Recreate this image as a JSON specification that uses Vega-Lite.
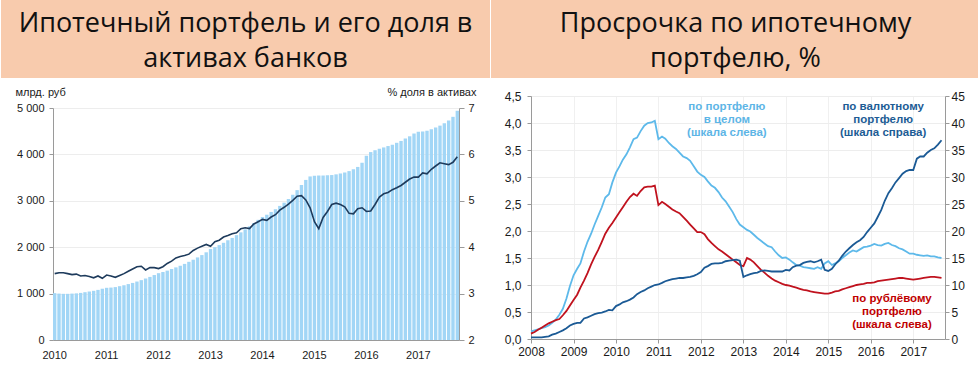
{
  "$schema": "https://vega.github.io/schema/vega-lite/v6.json",
  "padding": 0,
  "background": "white",
  "spacing": 0,
  "hconcat": [
    {
      "concat": [
        {
          "width": 0.001, "height": 0.001,
          "data": {"values": [{"z": 0}]},
          "mark": {"type": "point", "size": 0, "strokeWidth": 0, "opacity": 0}
        },
        {
          "width": 489,
          "height": 78,
          "view": {"fill": "#F8CBAD", "stroke": null},
          "data": {"values": [
            {"t": "Ипотечный портфель и его доля в", "i": 0},
            {"t": "активах банков", "i": 1}
          ]},
          "mark": {"type": "text", "font": "Open Sans", "fontSize": 27, "color": "#111111", "baseline": "alphabetic", "align": "center"},
          "encoding": {
            "y": {"field": "i", "type": "ordinal", "axis": null, "scale": {"range": [32, 67], "padding": 0}},
            "text": {"field": "t"}
          }
        },
        {
          "width": 0.001, "height": 0.001,
          "data": {"values": [{"z": 0}]},
          "mark": {"type": "point", "size": 0, "strokeWidth": 0, "opacity": 0}
        },
        {
          "width": 406,
          "height": 232,
          "title": {"text": "\u00a0", "orient": "bottom", "anchor": "start", "frame": "group", "dx": -52, "fontSize": 1, "offset": 0},
          "data": {"values": [
            {"m":"2010-01","v":1010,"s":3.43},{"m":"2010-02","v":1000,"s":3.45},{"m":"2010-03","v":995,"s":3.45},{"m":"2010-04","v":995,"s":3.43},{"m":"2010-05","v":1000,"s":3.41},{"m":"2010-06","v":1005,"s":3.42},{"m":"2010-07","v":1015,"s":3.38},{"m":"2010-08","v":1030,"s":3.39},{"m":"2010-09","v":1045,"s":3.37},{"m":"2010-10","v":1060,"s":3.34},{"m":"2010-11","v":1080,"s":3.38},{"m":"2010-12","v":1105,"s":3.33},
            {"m":"2011-01","v":1125,"s":3.40},{"m":"2011-02","v":1130,"s":3.38},{"m":"2011-03","v":1140,"s":3.35},{"m":"2011-04","v":1160,"s":3.39},{"m":"2011-05","v":1180,"s":3.43},{"m":"2011-06","v":1205,"s":3.48},{"m":"2011-07","v":1230,"s":3.53},{"m":"2011-08","v":1260,"s":3.58},{"m":"2011-09","v":1290,"s":3.59},{"m":"2011-10","v":1325,"s":3.51},{"m":"2011-11","v":1360,"s":3.56},{"m":"2011-12","v":1400,"s":3.56},
            {"m":"2012-01","v":1440,"s":3.54},{"m":"2012-02","v":1465,"s":3.58},{"m":"2012-03","v":1495,"s":3.65},{"m":"2012-04","v":1530,"s":3.70},{"m":"2012-05","v":1565,"s":3.77},{"m":"2012-06","v":1600,"s":3.80},{"m":"2012-07","v":1640,"s":3.82},{"m":"2012-08","v":1685,"s":3.85},{"m":"2012-09","v":1730,"s":3.93},{"m":"2012-10","v":1780,"s":3.98},{"m":"2012-11","v":1830,"s":4.02},{"m":"2012-12","v":1890,"s":4.06},
            {"m":"2013-01","v":1960,"s":4.02},{"m":"2013-02","v":2000,"s":4.12},{"m":"2013-03","v":2045,"s":4.15},{"m":"2013-04","v":2095,"s":4.22},{"m":"2013-05","v":2150,"s":4.25},{"m":"2013-06","v":2200,"s":4.29},{"m":"2013-07","v":2260,"s":4.31},{"m":"2013-08","v":2320,"s":4.40},{"m":"2013-09","v":2385,"s":4.42},{"m":"2013-10","v":2450,"s":4.40},{"m":"2013-11","v":2520,"s":4.50},{"m":"2013-12","v":2590,"s":4.55},
            {"m":"2014-01","v":2650,"s":4.60},{"m":"2014-02","v":2700,"s":4.58},{"m":"2014-03","v":2760,"s":4.65},{"m":"2014-04","v":2820,"s":4.70},{"m":"2014-05","v":2890,"s":4.80},{"m":"2014-06","v":2960,"s":4.86},{"m":"2014-07","v":3040,"s":4.93},{"m":"2014-08","v":3130,"s":5.01},{"m":"2014-09","v":3230,"s":5.10},{"m":"2014-10","v":3340,"s":5.11},{"m":"2014-11","v":3450,"s":5.02},{"m":"2014-12","v":3525,"s":4.85},
            {"m":"2015-01","v":3540,"s":4.55},{"m":"2015-02","v":3545,"s":4.40},{"m":"2015-03","v":3545,"s":4.64},{"m":"2015-04","v":3550,"s":4.77},{"m":"2015-05","v":3555,"s":4.92},{"m":"2015-06","v":3570,"s":4.95},{"m":"2015-07","v":3590,"s":4.92},{"m":"2015-08","v":3610,"s":4.87},{"m":"2015-09","v":3640,"s":4.73},{"m":"2015-10","v":3680,"s":4.72},{"m":"2015-11","v":3730,"s":4.83},{"m":"2015-12","v":3820,"s":4.85},
            {"m":"2016-01","v":3970,"s":4.77},{"m":"2016-02","v":4050,"s":4.78},{"m":"2016-03","v":4090,"s":4.92},{"m":"2016-04","v":4120,"s":5.08},{"m":"2016-05","v":4150,"s":5.15},{"m":"2016-06","v":4180,"s":5.18},{"m":"2016-07","v":4210,"s":5.24},{"m":"2016-08","v":4250,"s":5.28},{"m":"2016-09","v":4290,"s":5.33},{"m":"2016-10","v":4340,"s":5.40},{"m":"2016-11","v":4390,"s":5.47},{"m":"2016-12","v":4450,"s":5.51},
            {"m":"2017-01","v":4490,"s":5.51},{"m":"2017-02","v":4495,"s":5.60},{"m":"2017-03","v":4510,"s":5.58},{"m":"2017-04","v":4540,"s":5.68},{"m":"2017-05","v":4580,"s":5.75},{"m":"2017-06","v":4620,"s":5.82},{"m":"2017-07","v":4670,"s":5.80},{"m":"2017-08","v":4730,"s":5.78},{"m":"2017-09","v":4810,"s":5.83},{"m":"2017-10","v":4940,"s":5.95}
          ]},
          "encoding": {
            "x": {
              "field": "m", "type": "ordinal",
              "scale": {"paddingInner": 0.22, "paddingOuter": 0},
              "axis": {
                "values": ["2010-01","2011-01","2012-01","2013-01","2014-01","2015-01","2016-01","2017-01"],
                "labelExpr": "slice(datum.value, 0, 4)",
                "labelAngle": 0, "ticks": false, "tickSize": 0, "labelPadding": 9,
                "labelFontSize": 11, "title": null, "grid": false
              }
            }
          },
          "layer": [
            {
              "mark": {"type": "bar", "color": "#A2D6F6"},
              "encoding": {
                "y": {
                  "field": "v", "type": "quantitative",
                  "scale": {"domain": [0, 5000], "nice": false},
                  "axis": {
                    "values": [0, 1000, 2000, 3000, 4000, 5000],
                    "labelExpr": "replace(format(datum.value, ','), ',', ' ')",
                    "grid": true, "tickSize": 4, "labelPadding": 5, "labelFontSize": 11,
                    "title": "млрд. руб",
                    "titleAngle": 0, "titleAlign": "left", "titleBaseline": "middle",
                    "titleX": -38, "titleY": -16, "titleFontSize": 11
                  }
                }
              }
            },
            {
              "mark": {"type": "line", "color": "#1E3B5C", "strokeWidth": 1.6},
              "encoding": {
                "y": {
                  "field": "s", "type": "quantitative",
                  "scale": {"domain": [2, 7], "nice": false, "zero": false},
                  "axis": {
                    "orient": "right", "values": [2, 3, 4, 5, 6, 7], "grid": false,
                    "tickSize": 5, "labelPadding": 4, "labelFontSize": 11,
                    "title": "% доля в активах",
                    "titleAngle": 0, "titleAlign": "right", "titleBaseline": "middle",
                    "titleX": 17, "titleY": -16, "titleFontSize": 11
                  }
                }
              }
            }
          ],
          "resolve": {"scale": {"y": "independent"}}
        }
      ],
      "columns": 2,
      "align": "none",
      "spacing": {"row": 8, "column": 0}
    },
    {
      "concat": [
        {
          "width": 0.001, "height": 0.001,
          "data": {"values": [{"z": 0}]},
          "mark": {"type": "point", "size": 0, "strokeWidth": 0, "opacity": 0}
        },
        {
          "width": 489,
          "height": 78,
          "view": {"fill": "#F8CBAD", "stroke": null},
          "data": {"values": [
            {"t": "Просрочка по ипотечному", "i": 0},
            {"t": "портфелю, %", "i": 1}
          ]},
          "mark": {"type": "text", "font": "Open Sans", "fontSize": 27, "color": "#111111", "baseline": "alphabetic", "align": "center"},
          "encoding": {
            "y": {"field": "i", "type": "ordinal", "axis": null, "scale": {"range": [32, 67], "padding": 0}},
            "text": {"field": "t"}
          }
        },
        {
          "width": 0.001, "height": 0.001,
          "data": {"values": [{"z": 0}]},
          "mark": {"type": "point", "size": 0, "strokeWidth": 0, "opacity": 0}
        },
        {
          "width": 414,
          "height": 243,
          "title": {"text": "\u00a0", "orient": "bottom", "anchor": "start", "frame": "group", "dx": -40, "fontSize": 1, "offset": 0},
          "data": {"values": [
            {"d":"2008-01-01","a":0.14,"r":0.10,"f":0.3},{"d":"2008-02-01","a":0.16,"r":0.13,"f":0.3},{"d":"2008-03-01","a":0.18,"r":0.17,"f":0.3},{"d":"2008-04-01","a":0.20,"r":0.21,"f":0.3},{"d":"2008-05-01","a":0.22,"r":0.25,"f":0.4},{"d":"2008-06-01","a":0.25,"r":0.29,"f":0.5},{"d":"2008-07-01","a":0.30,"r":0.32,"f":0.8},{"d":"2008-08-01","a":0.36,"r":0.35,"f":1.0},{"d":"2008-09-01","a":0.45,"r":0.37,"f":1.3},{"d":"2008-10-01","a":0.56,"r":0.44,"f":1.6},{"d":"2008-11-01","a":0.75,"r":0.52,"f":2.0},{"d":"2008-12-01","a":0.98,"r":0.62,"f":2.5},
            {"d":"2009-01-01","a":1.18,"r":0.72,"f":2.8},{"d":"2009-02-01","a":1.30,"r":0.82,"f":3.0},{"d":"2009-03-01","a":1.40,"r":0.95,"f":3.0},{"d":"2009-04-01","a":1.62,"r":1.08,"f":3.8},{"d":"2009-05-01","a":1.80,"r":1.22,"f":4.0},{"d":"2009-06-01","a":1.95,"r":1.38,"f":4.3},{"d":"2009-07-01","a":2.12,"r":1.52,"f":4.6},{"d":"2009-08-01","a":2.28,"r":1.65,"f":4.8},{"d":"2009-09-01","a":2.44,"r":1.80,"f":4.9},{"d":"2009-10-01","a":2.62,"r":1.95,"f":5.1},{"d":"2009-11-01","a":2.68,"r":2.06,"f":5.4},{"d":"2009-12-01","a":2.90,"r":2.15,"f":5.3},
            {"d":"2010-01-01","a":3.08,"r":2.25,"f":6.1},{"d":"2010-02-01","a":3.20,"r":2.35,"f":6.4},{"d":"2010-03-01","a":3.32,"r":2.44,"f":6.8},{"d":"2010-04-01","a":3.42,"r":2.54,"f":7.0},{"d":"2010-05-01","a":3.55,"r":2.63,"f":7.3},{"d":"2010-06-01","a":3.70,"r":2.69,"f":7.7},{"d":"2010-07-01","a":3.73,"r":2.65,"f":8.3},{"d":"2010-08-01","a":3.85,"r":2.74,"f":8.7},{"d":"2010-09-01","a":3.95,"r":2.81,"f":9.0},{"d":"2010-10-01","a":4.00,"r":2.82,"f":9.4},{"d":"2010-11-01","a":4.01,"r":2.82,"f":9.7},{"d":"2010-12-01","a":4.04,"r":2.84,"f":10.0},
            {"d":"2011-01-01","a":3.70,"r":2.48,"f":10.1},{"d":"2011-02-01","a":3.75,"r":2.54,"f":10.4},{"d":"2011-03-01","a":3.71,"r":2.50,"f":10.7},{"d":"2011-04-01","a":3.63,"r":2.45,"f":10.9},{"d":"2011-05-01","a":3.57,"r":2.40,"f":11.1},{"d":"2011-06-01","a":3.52,"r":2.36,"f":11.2},{"d":"2011-07-01","a":3.45,"r":2.33,"f":11.3},{"d":"2011-08-01","a":3.38,"r":2.26,"f":11.3},{"d":"2011-09-01","a":3.35,"r":2.19,"f":11.4},{"d":"2011-10-01","a":3.30,"r":2.12,"f":11.5},{"d":"2011-11-01","a":3.20,"r":2.05,"f":11.7},{"d":"2011-12-01","a":3.10,"r":1.98,"f":12.0},
            {"d":"2012-01-01","a":3.04,"r":1.98,"f":12.4},{"d":"2012-02-01","a":3.00,"r":1.94,"f":13.2},{"d":"2012-03-01","a":2.92,"r":1.85,"f":13.5},{"d":"2012-04-01","a":2.84,"r":1.78,"f":13.9},{"d":"2012-05-01","a":2.80,"r":1.72,"f":14.0},{"d":"2012-06-01","a":2.72,"r":1.66,"f":14.0},{"d":"2012-07-01","a":2.62,"r":1.62,"f":14.1},{"d":"2012-08-01","a":2.55,"r":1.57,"f":14.4},{"d":"2012-09-01","a":2.45,"r":1.52,"f":14.5},{"d":"2012-10-01","a":2.35,"r":1.47,"f":14.6},{"d":"2012-11-01","a":2.22,"r":1.42,"f":14.7},{"d":"2012-12-01","a":2.12,"r":1.37,"f":14.5},
            {"d":"2013-01-01","a":2.07,"r":1.35,"f":11.5},{"d":"2013-02-01","a":2.02,"r":1.50,"f":11.8},{"d":"2013-03-01","a":1.99,"r":1.47,"f":12.0},{"d":"2013-04-01","a":1.93,"r":1.42,"f":12.2},{"d":"2013-05-01","a":1.87,"r":1.35,"f":12.3},{"d":"2013-06-01","a":1.82,"r":1.28,"f":12.6},{"d":"2013-07-01","a":1.77,"r":1.23,"f":12.7},{"d":"2013-08-01","a":1.72,"r":1.17,"f":12.6},{"d":"2013-09-01","a":1.70,"r":1.12,"f":12.5},{"d":"2013-10-01","a":1.62,"r":1.08,"f":12.5},{"d":"2013-11-01","a":1.55,"r":1.05,"f":12.5},{"d":"2013-12-01","a":1.50,"r":1.02,"f":12.5},
            {"d":"2014-01-01","a":1.51,"r":1.00,"f":12.8},{"d":"2014-02-01","a":1.47,"r":0.99,"f":12.7},{"d":"2014-03-01","a":1.42,"r":0.97,"f":13.3},{"d":"2014-04-01","a":1.37,"r":0.95,"f":13.6},{"d":"2014-05-01","a":1.36,"r":0.93,"f":13.7},{"d":"2014-06-01","a":1.33,"r":0.91,"f":14.1},{"d":"2014-07-01","a":1.32,"r":0.90,"f":14.3},{"d":"2014-08-01","a":1.31,"r":0.88,"f":14.4},{"d":"2014-09-01","a":1.30,"r":0.87,"f":14.2},{"d":"2014-10-01","a":1.33,"r":0.86,"f":14.4},{"d":"2014-11-01","a":1.30,"r":0.85,"f":14.7},{"d":"2014-12-01","a":1.40,"r":0.84,"f":12.8},
            {"d":"2015-01-01","a":1.44,"r":0.84,"f":12.6},{"d":"2015-02-01","a":1.37,"r":0.86,"f":13.0},{"d":"2015-03-01","a":1.40,"r":0.88,"f":13.8},{"d":"2015-04-01","a":1.44,"r":0.89,"f":14.5},{"d":"2015-05-01","a":1.50,"r":0.92,"f":15.4},{"d":"2015-06-01","a":1.55,"r":0.94,"f":16.2},{"d":"2015-07-01","a":1.60,"r":0.96,"f":16.8},{"d":"2015-08-01","a":1.64,"r":0.98,"f":17.4},{"d":"2015-09-01","a":1.62,"r":1.00,"f":17.9},{"d":"2015-10-01","a":1.66,"r":1.01,"f":18.3},{"d":"2015-11-01","a":1.70,"r":1.02,"f":18.9},{"d":"2015-12-01","a":1.71,"r":1.04,"f":19.8},
            {"d":"2016-01-01","a":1.73,"r":1.04,"f":20.6},{"d":"2016-02-01","a":1.76,"r":1.05,"f":21.4},{"d":"2016-03-01","a":1.74,"r":1.07,"f":22.6},{"d":"2016-04-01","a":1.73,"r":1.08,"f":23.9},{"d":"2016-05-01","a":1.76,"r":1.09,"f":25.6},{"d":"2016-06-01","a":1.78,"r":1.10,"f":27.0},{"d":"2016-07-01","a":1.74,"r":1.11,"f":27.9},{"d":"2016-08-01","a":1.72,"r":1.12,"f":29.0},{"d":"2016-09-01","a":1.68,"r":1.13,"f":29.8},{"d":"2016-10-01","a":1.66,"r":1.13,"f":30.6},{"d":"2016-11-01","a":1.62,"r":1.12,"f":31.1},{"d":"2016-12-01","a":1.58,"r":1.11,"f":31.3},
            {"d":"2017-01-01","a":1.58,"r":1.10,"f":31.3},{"d":"2017-02-01","a":1.56,"r":1.11,"f":33.4},{"d":"2017-03-01","a":1.55,"r":1.12,"f":33.8},{"d":"2017-04-01","a":1.54,"r":1.13,"f":33.8},{"d":"2017-05-01","a":1.55,"r":1.14,"f":34.5},{"d":"2017-06-01","a":1.53,"r":1.15,"f":35.0},{"d":"2017-07-01","a":1.53,"r":1.15,"f":35.3},{"d":"2017-08-01","a":1.51,"r":1.14,"f":36.0},{"d":"2017-09-01","a":1.50,"r":1.13,"f":36.8}
          ]},
          "encoding": {
            "x": {
              "field": "d", "type": "temporal",
              "scale": {"type": "utc", "domain": [{"year": 2008, "month": 1, "date": 1, "utc": true}, {"year": 2017, "month": 10, "date": 1, "utc": true}]},
              "axis": {
                "values": [
                  {"year": 2008, "month": 1, "date": 1, "utc": true},
                  {"year": 2009, "month": 1, "date": 1, "utc": true},
                  {"year": 2010, "month": 1, "date": 1, "utc": true},
                  {"year": 2011, "month": 1, "date": 1, "utc": true},
                  {"year": 2012, "month": 1, "date": 1, "utc": true},
                  {"year": 2013, "month": 1, "date": 1, "utc": true},
                  {"year": 2014, "month": 1, "date": 1, "utc": true},
                  {"year": 2015, "month": 1, "date": 1, "utc": true},
                  {"year": 2016, "month": 1, "date": 1, "utc": true},
                  {"year": 2017, "month": 1, "date": 1, "utc": true}
                ],
                "format": "%Y", "labelAngle": 0, "grid": true, "gridColor": "#f0f0f0",
                "tickSize": 4, "labelPadding": 3, "labelFontSize": 12, "title": null,
                "labelFlush": false, "labelOverlap": false
              }
            }
          },
          "layer": [
            {
              "layer": [
                {
                  "mark": {"type": "line", "color": "#5DB9EA", "strokeWidth": 1.8},
                  "encoding": {
                    "y": {
                      "field": "a", "type": "quantitative",
                      "scale": {"domain": [0, 4.5], "nice": false},
                      "axis": {
                        "values": [0, 0.5, 1, 1.5, 2, 2.5, 3, 3.5, 4, 4.5],
                        "labelExpr": "replace(format(datum.value, '.1f'), '.', ',')",
                        "grid": true, "tickSize": 4, "labelPadding": 6, "labelFontSize": 12, "title": null
                      }
                    }
                  }
                },
                {
                  "mark": {"type": "line", "color": "#C0121E", "strokeWidth": 1.8},
                  "encoding": {
                    "y": {
                      "field": "r", "type": "quantitative",
                      "scale": {"domain": [0, 4.5], "nice": false},
                      "axis": {
                        "values": [0, 0.5, 1, 1.5, 2, 2.5, 3, 3.5, 4, 4.5],
                        "labelExpr": "replace(format(datum.value, '.1f'), '.', ',')",
                        "grid": true, "tickSize": 4, "labelPadding": 6, "labelFontSize": 12, "title": null
                      }
                    }
                  }
                },
                {
                  "data": {"values": [
                    {"d": "2012-08-12", "y": 4.30, "t": "по портфелю", "g": "a"},
                    {"d": "2012-08-12", "y": 4.056, "t": "в целом", "g": "a"},
                    {"d": "2012-08-12", "y": 3.81, "t": "(шкала слева)", "g": "a"},
                    {"d": "2016-04-17", "y": 4.30, "t": "по валютному", "g": "f"},
                    {"d": "2016-04-17", "y": 4.056, "t": "портфелю", "g": "f"},
                    {"d": "2016-04-17", "y": 3.81, "t": "(шкала справа)", "g": "f"},
                    {"d": "2016-07-02", "y": 0.745, "t": "по рублёвому", "g": "r"},
                    {"d": "2016-07-02", "y": 0.499, "t": "портфелю", "g": "r"},
                    {"d": "2016-07-02", "y": 0.253, "t": "(шкала слева)", "g": "r"}
                  ]},
                  "mark": {"type": "text", "font": "Liberation Sans", "fontWeight": "bold", "fontSize": 11.5, "baseline": "middle", "align": "center"},
                  "encoding": {
                    "y": {
                      "field": "y", "type": "quantitative",
                      "scale": {"domain": [0, 4.5], "nice": false},
                      "axis": {
                        "values": [0, 0.5, 1, 1.5, 2, 2.5, 3, 3.5, 4, 4.5],
                        "labelExpr": "replace(format(datum.value, '.1f'), '.', ',')",
                        "grid": true, "tickSize": 4, "labelPadding": 6, "labelFontSize": 12, "title": null
                      }
                    },
                    "text": {"field": "t"},
                    "color": {"field": "g", "type": "nominal", "scale": {"domain": ["a", "f", "r"], "range": ["#5DB5E6", "#1D5C95", "#C00000"]}, "legend": null}
                  }
                }
              ]
            },
            {
              "mark": {"type": "line", "color": "#1B5A95", "strokeWidth": 1.8},
              "encoding": {
                "y": {
                  "field": "f", "type": "quantitative",
                  "scale": {"domain": [0, 45], "nice": false},
                  "axis": {
                    "orient": "right", "values": [0, 5, 10, 15, 20, 25, 30, 35, 40, 45],
                    "grid": false, "tickSize": 4, "labelPadding": 2, "labelFontSize": 12, "title": null
                  }
                }
              }
            }
          ],
          "resolve": {"scale": {"y": "independent"}}
        }
      ],
      "columns": 2,
      "align": "none",
      "spacing": {"row": 12, "column": 0}
    }
  ],
  "config": {
    "font": "Liberation Sans",
    "view": {"stroke": null},
    "axis": {
      "labelFont": "Liberation Sans", "titleFont": "Liberation Sans",
      "labelColor": "#1a1a1a", "titleColor": "#1a1a1a", "titleFontWeight": "normal",
      "domainColor": "#9a9a9a", "tickColor": "#9a9a9a", "gridColor": "#ededed",
      "labelFontSize": 11, "titleFontSize": 11, "labelFlush": false
    }
  }
}
